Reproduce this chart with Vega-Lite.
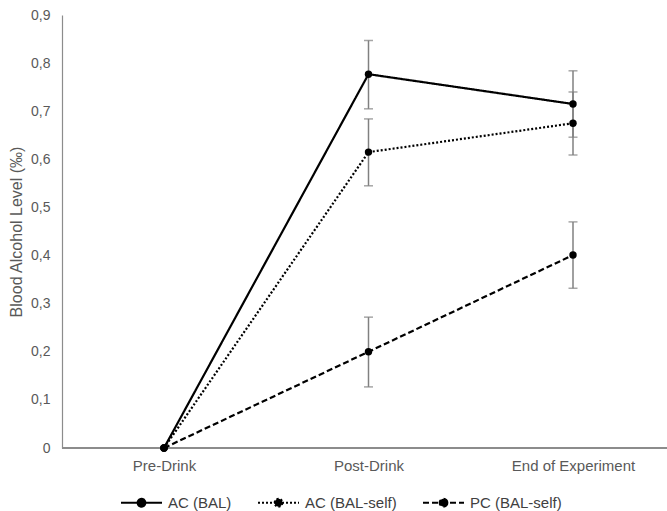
{
  "$schema": "https://vega.github.io/schema/vega-lite/v6.json",
  "width": 605,
  "height": 433,
  "autosize": {"type": "none"},
  "padding": {"left": 62, "top": 15, "right": 0, "bottom": 63},
  "background": "white",
  "config": {
    "font": "Liberation Sans",
    "view": {"stroke": null},
    "axis": {"grid": false, "ticks": false, "labelColor": "#595959", "titleColor": "#595959", "labelFontSize": 14, "titleFontSize": 16, "titleFontWeight": "normal"}
  },
  "data": {
    "values": [
      {"series": "AC (BAL)", "time": "Pre-Drink", "value": 0, "lo": 0, "hi": 0},
      {"series": "AC (BAL)", "time": "Post-Drink", "value": 0.777, "lo": 0.705, "hi": 0.847},
      {"series": "AC (BAL)", "time": "End of Experiment", "value": 0.715, "lo": 0.646, "hi": 0.784},
      {"series": "AC (BAL-self)", "time": "Pre-Drink", "value": 0, "lo": 0, "hi": 0},
      {"series": "AC (BAL-self)", "time": "Post-Drink", "value": 0.615, "lo": 0.545, "hi": 0.684},
      {"series": "AC (BAL-self)", "time": "End of Experiment", "value": 0.675, "lo": 0.609, "hi": 0.740},
      {"series": "PC (BAL-self)", "time": "Pre-Drink", "value": 0, "lo": 0, "hi": 0},
      {"series": "PC (BAL-self)", "time": "Post-Drink", "value": 0.2, "lo": 0.127, "hi": 0.272},
      {"series": "PC (BAL-self)", "time": "End of Experiment", "value": 0.401, "lo": 0.332, "hi": 0.470}
    ]
  },
  "layer": [
    {
      "mark": {"type": "rule", "color": "#8c8c8c", "strokeWidth": 1.2},
      "encoding": {"y": {"datum": 0, "type": "quantitative"}}
    },
    {
      "transform": [{"filter": "datum.hi > datum.lo"}],
      "mark": {"type": "rule", "color": "#808080", "strokeWidth": 1.5},
      "encoding": {
        "x": {"field": "time", "type": "ordinal", "sort": ["Pre-Drink", "Post-Drink", "End of Experiment"], "scale": {"type": "point", "range": [102, 511], "padding": 0}, "axis": {"title": null, "domain": false, "labelAngle": 0, "labelPadding": 10, "labelFontSize": 15}},
        "y": {"field": "lo", "type": "quantitative"},
        "y2": {"field": "hi"}
      }
    },
    {
      "transform": [{"filter": "datum.hi > datum.lo"}],
      "mark": {"type": "tick", "color": "#808080", "thickness": 1.5, "size": 9},
      "encoding": {
        "x": {"field": "time", "type": "ordinal", "sort": ["Pre-Drink", "Post-Drink", "End of Experiment"]},
        "y": {"field": "lo", "type": "quantitative"}
      }
    },
    {
      "transform": [{"filter": "datum.hi > datum.lo"}],
      "mark": {"type": "tick", "color": "#808080", "thickness": 1.5, "size": 9},
      "encoding": {
        "x": {"field": "time", "type": "ordinal", "sort": ["Pre-Drink", "Post-Drink", "End of Experiment"]},
        "y": {"field": "hi", "type": "quantitative"}
      }
    },
    {
      "mark": {"type": "line", "color": "black", "strokeWidth": 2.2, "strokeCap": "butt"},
      "encoding": {
        "x": {"field": "time", "type": "ordinal", "sort": ["Pre-Drink", "Post-Drink", "End of Experiment"]},
        "y": {
          "field": "value", "type": "quantitative",
          "scale": {"domain": [0, 0.9], "nice": false},
          "axis": {"title": "Blood Alcohol Level (‰)", "values": [0, 0.1, 0.2, 0.3, 0.4, 0.5, 0.6, 0.7, 0.8, 0.9], "labelExpr": "replace(format(datum.value, '.1~f'), '.', ',')", "domainColor": "#8c8c8c", "domainWidth": 1.2, "labelPadding": 12, "titlePadding": 6}
        },
        "strokeDash": {
          "field": "series", "type": "nominal",
          "scale": {"domain": ["AC (BAL)", "AC (BAL-self)", "PC (BAL-self)"], "range": [[1, 0], [2, 2], [6, 3]]},
          "legend": {
            "title": null, "orient": "none", "direction": "horizontal", "legendX": 58, "legendY": 466,
            "symbolType": "M-1,0L1,0M0.19,0A0.19,0.19,0,1,1,-0.19,0A0.19,0.19,0,1,1,0.19,0Z",
            "symbolSize": 1681, "symbolStrokeWidth": 2, "symbolFillColor": "black", "symbolStrokeColor": "black",
            "labelFontSize": 15, "labelColor": "#404040", "labelOffset": 5, "columnPadding": 22
          }
        }
      }
    },
    {
      "mark": {"type": "point", "filled": true, "color": "black", "size": 55, "opacity": 1},
      "encoding": {
        "x": {"field": "time", "type": "ordinal", "sort": ["Pre-Drink", "Post-Drink", "End of Experiment"]},
        "y": {"field": "value", "type": "quantitative"},
        "detail": {"field": "series"}
      }
    }
  ]
}
